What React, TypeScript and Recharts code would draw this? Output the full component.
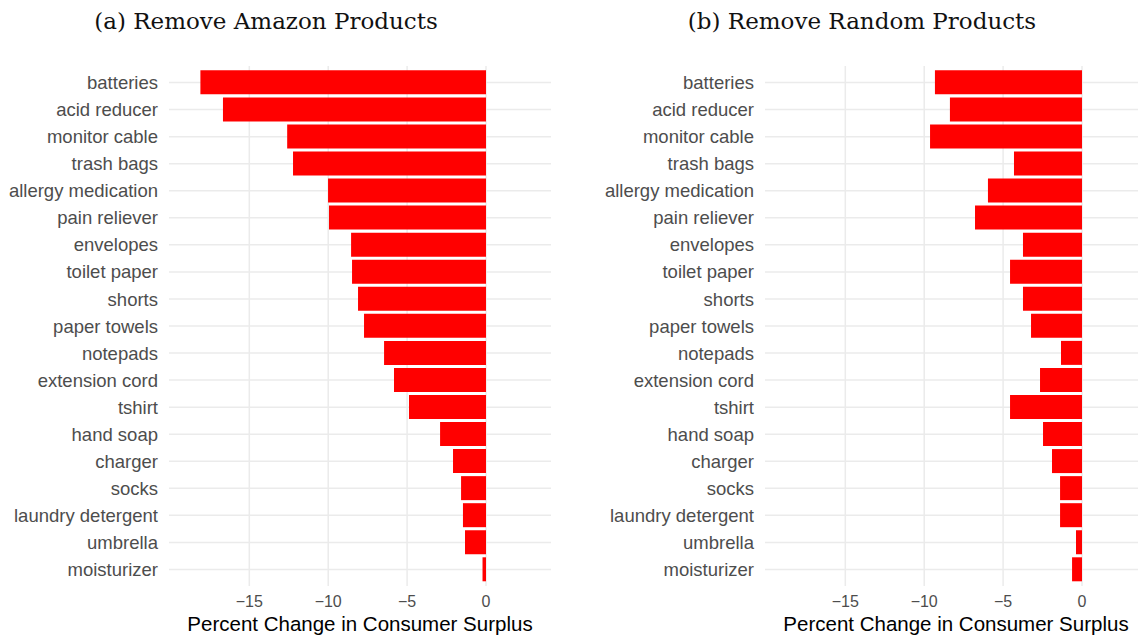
import React from 'react';
import { BarChart, Bar, XAxis, YAxis, CartesianGrid } from 'recharts';

const products = [
  'batteries', 'acid reducer', 'monitor cable', 'trash bags', 'allergy medication',
  'pain reliever', 'envelopes', 'toilet paper', 'shorts', 'paper towels', 'notepads',
  'extension cord', 'tshirt', 'hand soap', 'charger', 'socks', 'laundry detergent',
  'umbrella', 'moisturizer',
];

const amazonChange = [
  -18.1, -16.67, -12.6, -12.23, -10.01, -9.95, -8.55, -8.49, -8.11, -7.73, -6.46,
  -5.83, -4.88, -2.91, -2.09, -1.58, -1.46, -1.33, -0.22,
];

const randomChange = [
  -9.32, -8.37, -9.63, -4.31, -5.96, -6.78, -3.74, -4.56, -3.74, -3.23, -1.33,
  -2.66, -4.56, -2.47, -1.9, -1.39, -1.39, -0.38, -0.63,
];

const xTicks = [-15, -10, -5, 0];

const sans = '"Liberation Sans", Arial, sans-serif';

const fmt = (v: number) => (v < 0 ? `\u2212${Math.abs(v)}` : `${v}`);

const Panel = ({ values, title, left }: { values: number[]; title: string; left: number }) => {
  const data = products.map((p, i) => ({ product: p, change: values[i] }));
  return (
    <div style={{ position: 'absolute', left, top: 0, width: 560, height: 635 }}>
      <div
        style={{
          position: 'absolute', left: 0, top: 8, width: 532, textAlign: 'center',
          fontFamily: '"DejaVu Serif", serif', fontSize: 23, color: '#111',
        }}
      >
        {title}
      </div>
      <BarChart
        width={560}
        height={635}
        data={data}
        layout="vertical"
        barCategoryGap="5%"
        margin={{ top: 66, right: 9, bottom: 0, left: 0 }}
      >
        <CartesianGrid stroke="#ebebeb" strokeWidth={1.5} syncWithTicks />
        <XAxis
          type="number"
          domain={[-20.09, 4.12]}
          allowDataOverflow
          ticks={xTicks}
          tickFormatter={fmt}
          axisLine={false}
          tickLine={false}
          tickSize={6}
          tickMargin={4}
          height={49}
          tick={{ fill: '#4d4d4d', fontSize: 16, fontFamily: sans }}
          label={{
            value: 'Percent Change in Consumer Surplus',
            position: 'insideBottom',
            offset: 4,
            fill: '#000',
            fontSize: 20.5,
            fontFamily: sans,
          }}
        />
        <YAxis
          type="category"
          dataKey="product"
          width={169}
          axisLine={false}
          tickLine={false}
          tickSize={0}
          tickMargin={11}
          interval={0}
          padding={{ top: 3, bottom: 3 }}
          tick={{ fill: '#4d4d4d', fontSize: 18.5, fontFamily: sans }}
        />
        <Bar dataKey="change" fill="#ff0000" isAnimationActive={false} />
      </BarChart>
    </div>
  );
};

export default function App() {
  return (
    <div style={{ position: 'absolute', left: 0, top: 0, width: 1138, height: 635, overflow: 'hidden', background: '#fff' }}>
      <Panel values={amazonChange} title="(a) Remove Amazon Products" left={0} />
      <Panel values={randomChange} title="(b) Remove Random Products" left={596} />
    </div>
  );
}
